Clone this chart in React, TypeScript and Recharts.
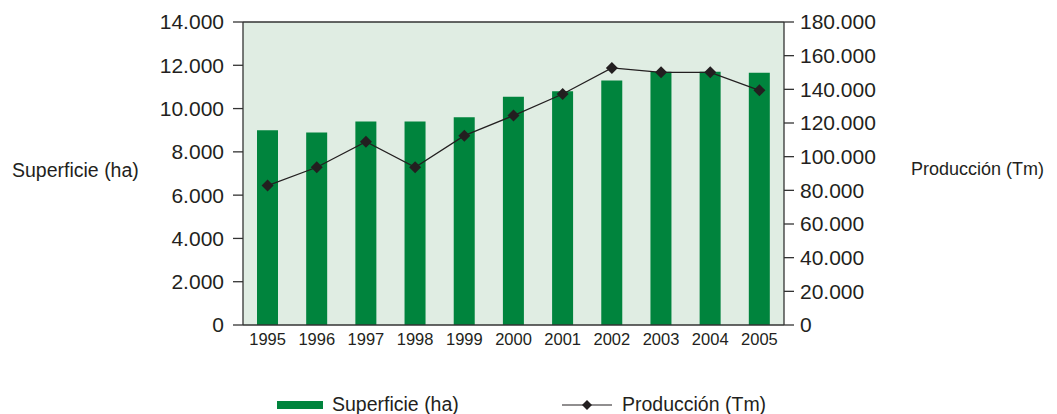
import React from 'react';
import { ComposedChart, Bar, Line, XAxis, YAxis, CartesianGrid, ReferenceLine, Legend } from 'recharts';

const years = ['1995', '1996', '1997', '1998', '1999', '2000', '2001', '2002', '2003', '2004', '2005'];
const superficie = [9000, 8900, 9400, 9400, 9600, 10550, 10800, 11300, 11700, 11700, 11650];
const produccion = [82800, 93700, 108900, 93700, 112500, 124400, 137200, 152700, 150100, 150100, 139400];
const leftTicks = [0, 2000, 4000, 6000, 8000, 10000, 12000, 14000];
const rightTicks = [0, 20000, 40000, 60000, 80000, 100000, 120000, 140000, 160000, 180000];

const data = years.map((y, i) => ({ year: y, superficie: superficie[i], produccion: produccion[i] }));

const FONT = '"Liberation Sans", Arial, sans-serif';
const TEXT = '#231F20';
const GREEN = '#00843D';

const fmt = (v: number) => v.toString().replace(/\B(?=(\d{3})+(?!\d))/g, '.');

const Diamond = (props: any) => {
  const { cx, cy } = props;
  if (cx == null || cy == null) return null;
  const r = 6;
  return <polygon points={`${cx},${cy - r} ${cx + r},${cy} ${cx},${cy + r} ${cx - r},${cy}`} fill={TEXT} />;
};

const LegendContent = () => (
  <div style={{ position: 'relative', height: 20, fontFamily: FONT, fontSize: 19.5, color: TEXT }}>
    <div style={{ position: 'absolute', left: 277, top: 7, width: 46, height: 8, background: GREEN }} />
    <div style={{ position: 'absolute', left: 332, top: -1, lineHeight: '22px' }}>Superficie (ha)</div>
    <svg style={{ position: 'absolute', left: 562, top: 0 }} width={52} height={20}>
      <line x1={0} y1={11} x2={50} y2={11} stroke={TEXT} strokeWidth={1.2} />
      <polygon points="25,6 30,11 25,16 20,11" fill={TEXT} />
    </svg>
    <div style={{ position: 'absolute', left: 622, top: -1, lineHeight: '22px' }}>Producción (Tm)</div>
  </div>
);

export default function App() {
  return (
    <div style={{ position: 'absolute', left: 0, top: 0, width: 1057, height: 414, background: '#fff' }}>
      <ComposedChart width={1057} height={414} data={data} margin={{ top: 22, right: 0, left: 0, bottom: 0 }} barSize={21}>
        <CartesianGrid yAxisId="left" horizontal={false} vertical={false} fill="#E0EDE3" stroke="none" />
        <XAxis
          dataKey="year"
          height={69}
          tickLine={false}
          tickSize={0}
          tickMargin={8}
          axisLine={{ stroke: '#333', strokeWidth: 1.3 }}
          tick={{ fill: TEXT, fontSize: 16.5, fontFamily: FONT }}
          interval={0}
        />
        <YAxis
          yAxisId="left"
          width={243}
          domain={[0, 14000]}
          ticks={leftTicks}
          tickFormatter={fmt}
          tickSize={10}
          tickMargin={9}
          axisLine={{ stroke: '#333', strokeWidth: 1.3 }}
          tickLine={{ stroke: '#333', strokeWidth: 1.3 }}
          tick={{ fill: TEXT, fontSize: 21, fontFamily: FONT }}
          interval={0}
          label={{ value: 'Superficie (ha)', position: 'insideLeft', offset: 12, dy: -3, fill: TEXT, fontSize: 19.5, fontFamily: FONT }}
        />
        <YAxis
          yAxisId="right"
          orientation="right"
          width={273}
          domain={[0, 180000]}
          ticks={rightTicks}
          tickFormatter={fmt}
          tickSize={10}
          tickMargin={6}
          axisLine={{ stroke: '#333', strokeWidth: 1.3 }}
          tickLine={{ stroke: '#333', strokeWidth: 1.3 }}
          tick={{ fill: TEXT, fontSize: 21, fontFamily: FONT }}
          interval={0}
          label={{ value: 'Producción (Tm)', position: 'insideRight', offset: 13, dy: -5, fill: TEXT, fontSize: 18, fontFamily: FONT }}
        />
        <ReferenceLine yAxisId="left" y={14000} stroke="#333" strokeWidth={1.3} />
        <Bar yAxisId="left" dataKey="superficie" name="Superficie (ha)" fill={GREEN} isAnimationActive={false} />
        <Line
          yAxisId="right"
          dataKey="produccion"
          name="Producción (Tm)"
          stroke={TEXT}
          strokeWidth={1.2}
          dot={<Diamond />}
          activeDot={false}
          isAnimationActive={false}
        />
        <Legend verticalAlign="bottom" height={20} content={<LegendContent />} wrapperStyle={{ left: 0, width: 1057 }} />
      </ComposedChart>
    </div>
  );
}
